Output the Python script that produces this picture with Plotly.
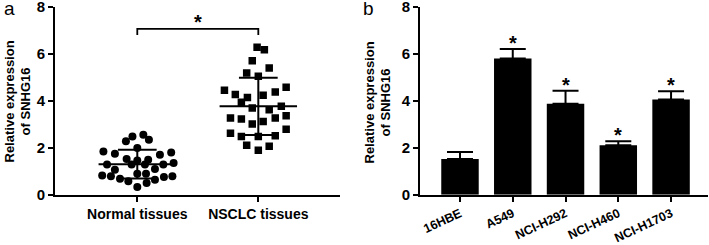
import plotly.graph_objects as go

# ---------------- data ----------------
# Panel a: scatter (jitter offsets in category units, values)
normal_dx = [0.05, -0.04, -0.094, 0.096, 0.0, -0.28, -0.185, -0.088, 0.0, 0.09, 0.187, 0.28,
             -0.25, -0.185, -0.047, 0.063, 0.146, 0.215, 0.30, -0.29, -0.218, -0.143, -0.074,
             0.0, 0.072, 0.077, 0.0, 0.146, 0.22, 0.29]
normal_vals = [2.55, 2.48, 2.27, 2.34, 1.99, 1.84, 1.74, 1.52, 1.46, 1.49, 1.70, 1.80,
               1.28, 1.06, 1.28, 1.28, 1.09, 1.28, 1.35, 0.82, 0.78, 0.68, 0.57,
               0.89, 0.89, 0.50, 0.33, 0.64, 0.75, 0.78]
nsclc_dx = [-0.01, 0.05, -0.05, 0.09, -0.096, 0.0, -0.28, -0.19, -0.09, 0.04, 0.14, 0.23,
            -0.14, -0.05, 0.09, 0.19, -0.23, -0.14, -0.05, 0.04, 0.14, 0.23, 0.23,
            -0.23, -0.14, 0.0, 0.14, -0.096, 0.09, 0.0]
nsclc_vals = [6.27, 6.17, 5.70, 5.39, 5.18, 5.04, 4.44, 4.26, 4.14, 4.23, 4.37, 4.57,
              3.93, 3.69, 3.62, 3.76, 3.26, 3.22, 3.01, 3.12, 3.26, 3.36, 2.79,
              2.62, 2.48, 2.48, 2.51, 2.10, 2.06, 1.89]
group_labels = ["Normal tissues", "NSCLC tissues"]
group_means = [1.30, 3.76]
group_sds = [0.61, 1.22]
bracket_y = 7.06
bracket_drop = 6.80

# Panel b: bars
cell_lines = ["16HBE", "A549", "NCI-H292", "NCI-H460", "NCI-H1703"]
cell_vals = [1.52, 5.80, 3.87, 2.10, 4.05]
cell_err = [0.30, 0.40, 0.55, 0.17, 0.35]
cell_sig = ["", "*", "*", "*", "*"]

yticks = [0, 2, 4, 6, 8]

# ---------------- figure ----------------
FONT = "Arial, Liberation Sans, sans-serif"
fig = go.Figure()

# panel a scatter points
fig.add_trace(go.Scatter(
    x=[0 + d for d in normal_dx], y=normal_vals, mode="markers",
    marker=dict(symbol="circle", size=8, color="black"),
    xaxis="x", yaxis="y", showlegend=False, hoverinfo="skip"))
fig.add_trace(go.Scatter(
    x=[1 + d for d in nsclc_dx], y=nsclc_vals, mode="markers",
    marker=dict(symbol="square", size=7.5, color="black"),
    xaxis="x", yaxis="y", showlegend=False, hoverinfo="skip"))

# mean and SD lines
for i, (m, s) in enumerate(zip(group_means, group_sds)):
    xs = [i - 0.32, i + 0.32, None, i, i, None, i - 0.16, i + 0.16, None, i - 0.16, i + 0.16]
    ys = [m, m, None, m - s, m + s, None, m + s, m + s, None, m - s, m - s]
    fig.add_trace(go.Scatter(x=xs, y=ys, mode="lines", line=dict(color="black", width=2),
                             xaxis="x", yaxis="y", showlegend=False, hoverinfo="skip"))

# significance bracket
fig.add_trace(go.Scatter(x=[0, 0, 1, 1], y=[bracket_drop, bracket_y, bracket_y, bracket_drop],
                         mode="lines", line=dict(color="black", width=1.8),
                         xaxis="x", yaxis="y", showlegend=False, hoverinfo="skip"))
fig.add_annotation(x=0.5, y=bracket_y, xref="x", yref="y", text="<b>*</b>", showarrow=False,
                   yanchor="bottom", yshift=-6, font=dict(family=FONT, size=20, color="black"))

# panel b bars
fig.add_trace(go.Bar(
    x=list(range(len(cell_lines))), y=cell_vals, width=0.71,
    marker=dict(color="black", line=dict(width=0)),
    error_y=dict(type="data", array=cell_err, arrayminus=[0] * len(cell_err), symmetric=False,
                 color="black", thickness=2, width=13),
    xaxis="x2", yaxis="y2", showlegend=False, hoverinfo="skip"))
for i, (v, e, s) in enumerate(zip(cell_vals, cell_err, cell_sig)):
    if s:
        fig.add_annotation(x=i, y=v + e, xref="x2", yref="y2", text="<b>" + s + "</b>",
                           showarrow=False, yanchor="bottom", yshift=-7,
                           font=dict(family=FONT, size=20, color="black"))

axis_common = dict(showline=True, linecolor="black", linewidth=2, ticks="outside",
                   ticklen=5, tickwidth=2, tickcolor="black", showgrid=False, zeroline=False,
                   automargin=False, ticklabeloverflow="allow")

W, H = 709, 245
y_dom = [(H - 194.7) / H, (H - 6.7) / H]

fig.update_layout(
    width=W, height=H, margin=dict(l=0, r=0, t=0, b=0, autoexpand=False),
    paper_bgcolor="white", plot_bgcolor="white",
    font=dict(family=FONT, color="black"),
    xaxis=dict(domain=[55 / W, 340 / W], range=[-0.68, 1.675], tickvals=[0, 1],
               ticktext=group_labels, anchor="y",
               tickfont=dict(family=FONT, size=14, weight="bold"), **axis_common),
    yaxis=dict(domain=y_dom, range=[0, 8], tickvals=yticks, anchor="x",
               tickfont=dict(family=FONT, size=15, weight="bold"), **axis_common),
    xaxis2=dict(domain=[420 / W, 708 / W], range=[-0.758, 4.70],
                tickvals=list(range(len(cell_lines))), ticktext=cell_lines, tickangle=-25,
                anchor="y2", tickfont=dict(family=FONT, size=12.5, weight="bold"), **axis_common),
    yaxis2=dict(domain=y_dom, range=[0, 8], tickvals=yticks, anchor="x2",
                tickfont=dict(family=FONT, size=15, weight="bold"), **axis_common),
    bargap=0.29,
)

# y-axis titles and panel letters
for xc in [17.5, 377.5]:
    fig.add_annotation(x=xc / W, y=(H - 102) / H, xref="paper", yref="paper",
                       text="<b>Relative expression<br>of SNHG16</b>", textangle=-90,
                       showarrow=False, xanchor="center", yanchor="middle",
                       font=dict(family=FONT, size=13, color="black"))
for xc, lab in [(2, "a"), (361, "b")]:
    fig.add_annotation(x=xc / W, y=1.0, xref="paper", yref="paper", text=lab,
                       showarrow=False, xanchor="left", yanchor="top", yshift=4,
                       font=dict(family=FONT, size=19, color="black"))

fig.write_html("out.html", config={"displayModeBar": False},
               post_script="document.body.style.margin='0';document.body.style.padding='0';")
